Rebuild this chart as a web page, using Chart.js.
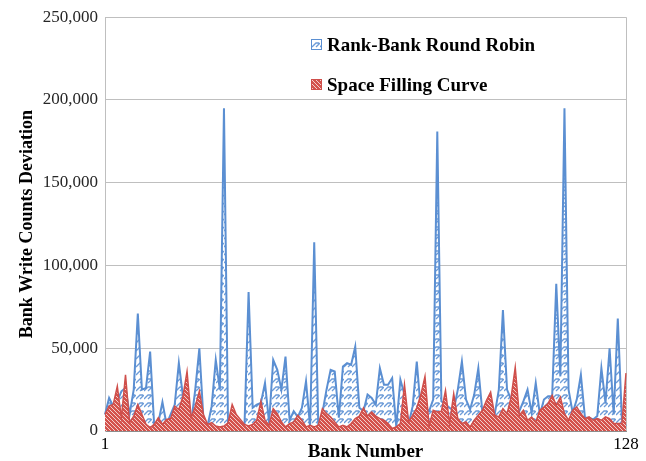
<!DOCTYPE html>
<html>
<head>
<meta charset="utf-8">
<script src="https://cdn.jsdelivr.net/npm/chart.js@4.4.1/dist/chart.umd.min.js"></script>
<style>
  html, body { margin: 0; padding: 0; background: #ffffff; }
  #wrap { width: 646px; height: 461px; position: relative; }
</style>
</head>
<body>
<div id="wrap"><canvas id="chart"></canvas></div>
<script>
// Write-count deviation per memory bank, two address-mapping schemes.
const seriesNames = ['Rank-Bank Round Robin', 'Space Filling Curve'];

const roundRobin = [
  10000, 20000, 15000, 18000, 24000, 26000, 10000, 25000, 71000, 25000,
  26000, 48000, 3000, 5000, 17500, 4000, 10000, 16000, 41000, 21000,
  12000, 5000, 25000, 50000, 7000, 3000, 15000, 43000, 25000, 195000,
  3000, 5000, 7000, 4000, 3000, 84000, 14000, 16000, 17000, 29000,
  5000, 43000, 37000, 25000, 45000, 6500, 12000, 8500, 14000, 30000,
  2500, 114000, 2500, 11000, 25000, 37000, 36000, 8000, 39000, 41000,
  40000, 51000, 14000, 12000, 22000, 20000, 16000, 38000, 28000, 28000,
  32000, 2500, 31000, 22000, 4000, 15000, 42000, 12000, 14000, 12000,
  19000, 181000, 18000, 16000, 14000, 12500, 25000, 42000, 19000, 13000,
  22000, 38000, 11000, 7000, 11000, 10000, 25000, 73000, 25000, 19000,
  15000, 12000, 18000, 25000, 11000, 29000, 10000, 19000, 21000, 21000,
  89000, 33000, 195000, 25000, 11000, 19000, 34000, 8000, 8000, 7000,
  9000, 38000, 17000, 50000, 10000, 68000, 7000, 3000
];

const spaceFilling = [
  10000, 15000, 16000, 27000, 8000, 34000, 5000, 9000, 16000, 10000,
  4000, 2000, 4000, 8000, 4000, 7000, 7500, 15000, 13000, 21000,
  36000, 8000, 15000, 24000, 10000, 4000, 5000, 3000, 2500, 3000,
  5000, 16000, 10000, 7000, 4000, 3000, 4000, 6500, 18000, 6500,
  3500, 13500, 10500, 5500, 2500, 4500, 5500, 9500, 6500, 2500,
  3500, 2500, 3500, 13500, 10500, 8500, 5500, 2500, 3500, 2500,
  4500, 7500, 9000, 14000, 9000, 11500, 9000, 7500, 6500, 4500,
  1500, 2500, 4500, 28000, 5500, 9500, 14000, 22000, 33000, 3000,
  12500, 11500, 12000, 24500, 4500, 22500, 7500, 4500, 5500, 2500,
  6500, 9500, 12500, 18500, 23500, 9500, 8500, 13500, 10500, 20500,
  38500, 9500, 12500, 6500, 8500, 5500, 12500, 14500, 16500, 21500,
  15500, 20500, 10500, 6500, 12500, 14500, 10500, 7500, 8500, 6500,
  7500, 6500, 8500, 7500, 4500, 4500, 4500, 35000
];

// Bank numbers along the category axis; only the first and last are labelled.
const banks = roundRobin.map((_, i) => String(i + 1));
const labelledBanks = ['1', '128'];

const yTickValues = [0, 50000, 100000, 150000, 200000, 250000];

const blueLine = '#5b8fd2';
const redLine = '#cf4f4b';

// Dashed up-diagonal hatch for the round-robin area.
function blueHatch() {
  const t = document.createElement('canvas');
  t.width = 8; t.height = 8;
  const g = t.getContext('2d');
  g.fillStyle = '#ffffff';
  g.fillRect(0, 0, 8, 8);
  g.strokeStyle = '#6d9cd8';
  g.lineWidth = 1.3;
  g.beginPath();
  g.moveTo(0, 7); g.lineTo(4, 3); g.lineTo(7, 3);
  g.moveTo(4, 7); g.lineTo(8, 3);
  g.stroke();
  return g.createPattern(t, 'repeat');
}

// Dense down-diagonal stripes for the space-filling-curve area.
function redHatch() {
  const t = document.createElement('canvas');
  t.width = 4; t.height = 4;
  const g = t.getContext('2d');
  g.fillStyle = '#d4524c';
  g.fillRect(0, 0, 4, 4);
  g.strokeStyle = 'rgba(255,255,255,0.8)';
  g.lineWidth = 0.9;
  g.beginPath();
  g.moveTo(-1, -1); g.lineTo(5, 5);
  g.moveTo(-1, 3); g.lineTo(1, 5);
  g.moveTo(3, -1); g.lineTo(5, 1);
  g.stroke();
  return g.createPattern(t, 'repeat');
}

const bluePattern = blueHatch();
const redPattern = redHatch();

const serif = '"Liberation Serif", "Times New Roman", serif';

// Legend drawn inside the plot area, one entry per row.
const innerLegend = {
  id: 'innerLegend',
  afterDraw(chart) {
    const ctx = chart.ctx;
    const entries = [
      { text: seriesNames[0], fill: bluePattern, stroke: blueLine, y: 45 },
      { text: seriesNames[1], fill: redPattern, stroke: redLine, y: 85 }
    ];
    ctx.save();
    ctx.font = 'bold 19px ' + serif;
    ctx.textBaseline = 'middle';
    ctx.textAlign = 'left';
    entries.forEach(e => {
      ctx.fillStyle = e.fill;
      ctx.fillRect(311, e.y - 6, 11, 11);
      ctx.strokeStyle = e.stroke;
      ctx.lineWidth = 1;
      ctx.strokeRect(311.5, e.y - 5.5, 10, 10);
      ctx.fillStyle = '#000000';
      ctx.fillText(e.text, 327, e.y + 1);
    });
    ctx.restore();
  }
};

new Chart(document.getElementById('chart'), {
  type: 'line',
  data: {
    labels: banks,
    datasets: [
      {
        label: seriesNames[0],
        data: roundRobin,
        borderColor: blueLine,
        backgroundColor: bluePattern,
        borderWidth: 2,
        fill: 'origin',
        pointRadius: 0,
        tension: 0,
        order: 2
      },
      {
        label: seriesNames[1],
        data: spaceFilling,
        borderColor: redLine,
        backgroundColor: redPattern,
        borderWidth: 1.5,
        fill: 'origin',
        pointRadius: 0,
        tension: 0,
        order: 1
      }
    ]
  },
  options: {
    responsive: true,
    maintainAspectRatio: false,
    animation: false,
    layout: { padding: { top: 16, right: 20, left: 0, bottom: 0 } },
    plugins: {
      legend: { display: false },
      tooltip: { enabled: false }
    },
    scales: {
      x: {
        type: 'category',
        offset: false,
        grid: {
          drawTicks: false,
          color: ctx => (ctx.index === banks.length - 1 ? '#bfbfbf' : 'rgba(0,0,0,0)'),
          lineWidth: 1
        },
        border: { display: true, color: '#8c8c8c', width: 1 },
        ticks: {
          autoSkip: false,
          maxRotation: 0,
          padding: 3,
          color: '#000000',
          font: { family: serif, size: 17 },
          callback: function (value, index) {
            const lab = banks[index];
            return labelledBanks.includes(lab) ? lab : '';
          }
        },
        title: {
          display: true,
          text: 'Bank Number',
          color: '#000000',
          font: { family: serif, size: 19, weight: 'bold' },
          padding: { top: -5, bottom: -2 }
        },
        afterFit: s => { s.height = 30; }
      },
      y: {
        min: 0,
        max: 250000,
        afterBuildTicks: s => { s.ticks = yTickValues.map(v => ({ value: v })); },
        grid: { color: '#bfbfbf', lineWidth: 1, drawTicks: false },
        border: { display: true, color: '#bfbfbf', width: 1 },
        ticks: {
          padding: 7,
          color: '#262626',
          font: { family: serif, size: 17 },
          callback: v => v.toLocaleString('en-US')
        },
        title: {
          display: true,
          text: 'Bank Write Counts Deviation',
          color: '#000000',
          font: { family: serif, size: 18, weight: 'bold' },
          padding: { top: 17, bottom: 0 }
        },
        afterFit: s => { s.width = 105; }
      }
    }
  },
  plugins: [innerLegend]
});
</script>
</body>
</html>
